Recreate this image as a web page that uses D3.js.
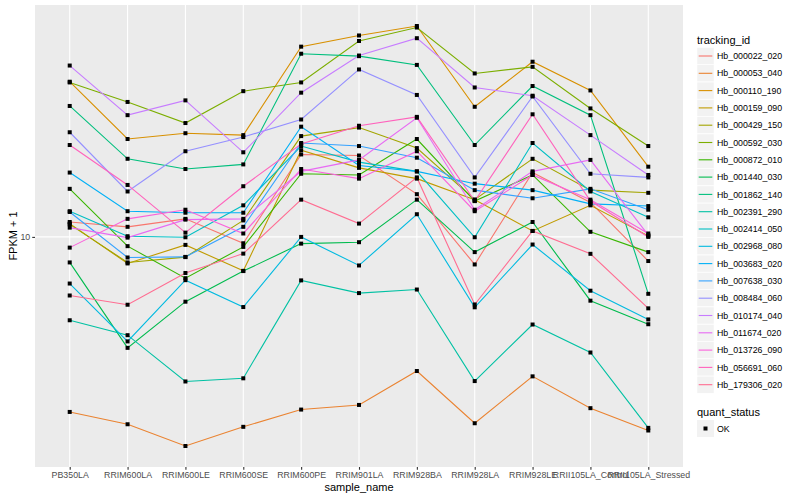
<!DOCTYPE html>
<html>
<head>
<meta charset="utf-8">
<script src="https://cdn.jsdelivr.net/npm/d3@7"></script>
<style>
  body { margin: 0; background: #fff; }
  text { font-family: "Liberation Sans", Arial, sans-serif; }
</style>
</head>
<body>
<div id="chart"></div>
<script>
const samples = ["PB350LA", "RRIM600LA", "RRIM600LE", "RRIM600SE", "RRIM600PE", "RRIM901LA",
  "RRIM928BA", "RRIM928LA", "RRIM928LE", "RRII105LA_Control", "RRII105LA_Stressed"];

const trackingIds = ["Hb_000022_020", "Hb_000053_040", "Hb_000110_190", "Hb_000159_090",
  "Hb_000429_150", "Hb_000592_030", "Hb_000872_010", "Hb_001440_030", "Hb_001862_140",
  "Hb_002391_290", "Hb_002414_050", "Hb_002968_080", "Hb_003683_020", "Hb_007638_030",
  "Hb_008484_060", "Hb_010174_040", "Hb_011674_020", "Hb_013726_090", "Hb_056691_060",
  "Hb_179306_020"];

const quantStatus = ["OK"];
const yTicks = [10];

// FPKM + 1, one array per tracking_id, in sample order
const hb_000022_020 = [10.9, 10.6, 11.1, 9.64, 16.1, 16.0, 12.8, 8.53, 14.5, 12.2, 8.70];
const hb_000053_040 = [3.64, 3.39, 2.99, 3.34, 3.69, 3.79, 4.61, 3.41, 4.47, 3.72, 3.27];
const hb_000110_190 = [24.5, 17.6, 18.2, 18.0, 30.0, 32.0, 33.8, 21.2, 27.5, 23.3, 15.0];
const hb_000159_090 = [10.8, 8.58, 9.55, 8.22, 16.5, 14.9, 14.0, 12.4, 10.35, 12.0, 10.06];
const hb_000429_150 = [10.75, 8.63, 8.90, 11.0, 17.9, 18.8, 16.7, 12.4, 15.7, 13.1, 12.9];
const hb_000592_030 = [24.4, 21.8, 19.3, 23.2, 24.4, 31.0, 33.5, 25.7, 26.7, 21.0, 16.9];
const hb_000872_010 = [13.2, 9.48, 7.88, 9.44, 14.4, 14.3, 17.6, 12.3, 14.3, 10.3, 9.16];
const hb_001440_030 = [8.63, 5.27, 6.88, 8.21, 9.62, 9.70, 12.4, 9.16, 10.9, 6.92, 6.04];
const hb_001862_140 = [21.3, 15.7, 14.8, 15.2, 28.8, 28.4, 27.0, 17.0, 23.9, 20.2, 7.20];
const hb_002391_290 = [6.18, 5.67, 4.34, 4.42, 7.78, 7.23, 7.38, 4.35, 6.03, 5.13, 3.32];
const hb_002414_050 = [11.6, 10.04, 9.98, 12.0, 16.9, 15.4, 14.6, 9.98, 17.2, 13.0, 11.2];
const hb_002968_080 = [7.64, 5.47, 7.79, 6.67, 10.0, 8.48, 11.4, 6.66, 9.57, 7.33, 6.21];
const hb_003683_020 = [14.5, 11.6, 11.5, 11.5, 18.9, 15.1, 14.6, 13.6, 13.1, 12.1, 11.95];
const hb_007638_030 = [11.55, 8.88, 8.91, 10.6, 17.2, 16.9, 15.8, 13.1, 12.5, 13.2, 11.7];
const hb_008484_060 = [18.3, 13.0, 16.4, 17.8, 19.7, 26.3, 22.7, 14.1, 22.5, 14.4, 14.1];
const hb_010174_040 = [26.9, 20.2, 22.0, 16.3, 23.0, 28.5, 31.5, 23.7, 22.6, 18.0, 14.3];
const hb_011674_020 = [10.55, 9.96, 11.05, 11.1, 14.6, 15.6, 19.9, 11.7, 14.6, 15.6, 10.1];
const hb_013726_090 = [9.40, 11.1, 11.7, 10.2, 14.8, 14.0, 16.4, 11.6, 14.3, 12.4, 10.2];
const hb_056691_060 = [17.0, 13.5, 10.25, 13.4, 17.1, 19.0, 20.0, 12.3, 20.3, 12.3, 10.0];
const hb_179306_020 = [7.13, 6.76, 8.12, 9.08, 12.4, 10.8, 14.1, 6.77, 10.35, 9.07, 6.62];

const seriesValues = [hb_000022_020, hb_000053_040, hb_000110_190, hb_000159_090,
  hb_000429_150, hb_000592_030, hb_000872_010, hb_001440_030, hb_001862_140,
  hb_002391_290, hb_002414_050, hb_002968_080, hb_003683_020, hb_007638_030,
  hb_008484_060, hb_010174_040, hb_011674_020, hb_013726_090, hb_056691_060,
  hb_179306_020];

// ggplot default hue palette for 20 levels
const palette = ["#F8766D", "#EA8331", "#D89000", "#C09B00", "#A3A500", "#7CAE00", "#39B600",
  "#00BB4E", "#00BF7D", "#00C1A3", "#00BFC4", "#00BAE0", "#00B0F6", "#35A2FF", "#9590FF",
  "#C77CFF", "#E76BF3", "#FA62DB", "#FF62BC", "#FF6C91"];

const series = trackingIds.map((id, i) => ({
  id: id,
  values: samples.map((s, j) => ({ sample: s, value: seriesValues[i][j] }))
}));

const width = 800, height = 500;
const panel = { left: 35, right: 683, top: 5, bottom: 467 };

const svg = d3.select("#chart").append("svg")
  .attr("width", width)
  .attr("height", height);

const x = d3.scalePoint()
  .domain(samples)
  .range([panel.left, panel.right])
  .padding(0.6);

// log scale with 5% expansion, like ggplot
const allVals = seriesValues.flat();
const lo = Math.log10(d3.min(allVals)), hi = Math.log10(d3.max(allVals));
const pad = (hi - lo) * 0.05;
const y = d3.scaleLog()
  .domain([Math.pow(10, lo - pad), Math.pow(10, hi + pad)])
  .range([panel.bottom, panel.top]);

// panel
svg.append("rect")
  .attr("x", panel.left).attr("y", panel.top)
  .attr("width", panel.right - panel.left)
  .attr("height", panel.bottom - panel.top)
  .attr("fill", "#EBEBEB");

svg.append("g").selectAll("line")
  .data(samples)
  .enter().append("line")
  .attr("x1", d => x(d)).attr("x2", d => x(d))
  .attr("y1", panel.top).attr("y2", panel.bottom)
  .attr("stroke", "#fff").attr("stroke-width", 1.1);

svg.append("g").selectAll("line")
  .data(yTicks)
  .enter().append("line")
  .attr("x1", panel.left).attr("x2", panel.right)
  .attr("y1", d => y(d)).attr("y2", d => y(d))
  .attr("stroke", "#fff").attr("stroke-width", 1.1);

// lines
const line = d3.line()
  .x(d => x(d.sample))
  .y(d => y(d.value));

svg.append("g").selectAll("path")
  .data(series)
  .enter().append("path")
  .attr("fill", "none")
  .attr("stroke", (d, i) => palette[i])
  .attr("stroke-width", 1.1)
  .attr("d", d => line(d.values));

// points
svg.append("g").selectAll("rect")
  .data(series.flatMap(s => s.values))
  .enter().append("rect")
  .attr("x", d => x(d.sample) - 2)
  .attr("y", d => y(d.value) - 2)
  .attr("width", 4).attr("height", 4)
  .attr("fill", "#000");

// axes
const xAxis = svg.append("g")
  .attr("transform", "translate(0," + panel.bottom + ")")
  .call(d3.axisBottom(x).tickSize(2.75).tickPadding(2));
const yAxis = svg.append("g")
  .attr("transform", "translate(" + panel.left + ",0)")
  .call(d3.axisLeft(y).tickValues(yTicks).tickFormat(d3.format("d")).tickSize(2.75).tickPadding(2));

[xAxis, yAxis].forEach(a => {
  a.select(".domain").remove();
  a.selectAll(".tick line").attr("stroke", "#333333").attr("stroke-width", 1.1);
  a.selectAll(".tick text").attr("fill", "#4D4D4D")
    .style("font-size", "8.8px");
});

svg.append("text")
  .attr("x", (panel.left + panel.right) / 2).attr("y", 491)
  .attr("text-anchor", "middle")
  .style("font-size", "11px")
  .text("sample_name");

svg.append("text")
  .attr("transform", "translate(17," + (panel.top + panel.bottom) / 2 + ") rotate(-90)")
  .attr("text-anchor", "middle")
  .style("font-size", "11px")
  .text("FPKM + 1");

// legend: tracking_id
const legX = 697, keySize = 17.3, key0 = 47.5;
svg.append("text")
  .attr("x", legX).attr("y", 44)
  .style("font-size", "11px")
  .text("tracking_id");

const leg = svg.append("g").selectAll("g")
  .data(trackingIds)
  .enter().append("g")
  .attr("transform", (d, i) => "translate(" + legX + "," + (key0 + i * keySize) + ")");

leg.append("rect")
  .attr("width", 17).attr("height", 17)
  .attr("fill", "#F2F2F2").attr("stroke", "#fff").attr("stroke-width", 0.5);
leg.append("line")
  .attr("x1", 1.7).attr("x2", 15.3)
  .attr("y1", 8.5).attr("y2", 8.5)
  .attr("stroke", (d, i) => palette[i]).attr("stroke-width", 1.1);
leg.append("text")
  .attr("x", 20).attr("y", 11.7)
  .style("font-size", "8.8px")
  .text(d => d);

// legend: quant_status
svg.append("text")
  .attr("x", legX).attr("y", 416)
  .style("font-size", "11px")
  .text("quant_status");

const leg2 = svg.append("g").selectAll("g")
  .data(quantStatus)
  .enter().append("g")
  .attr("transform", (d, i) => "translate(" + legX + "," + (420 + i * keySize) + ")");
leg2.append("rect")
  .attr("width", 17).attr("height", 17)
  .attr("fill", "#F2F2F2");
leg2.append("rect")
  .attr("x", 6.5).attr("y", 6.5).attr("width", 4).attr("height", 4)
  .attr("fill", "#000");
leg2.append("text")
  .attr("x", 20).attr("y", 11.7)
  .style("font-size", "8.8px")
  .text(d => d);
</script>
</body>
</html>
